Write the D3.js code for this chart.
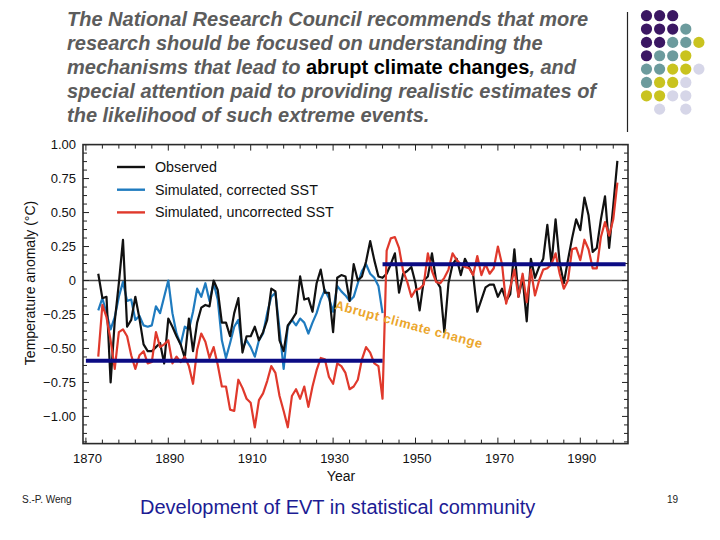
<!DOCTYPE html>
<html><head><meta charset="utf-8">
<script src="https://cdn.jsdelivr.net/npm/d3@7"></script>
<style>body{margin:0;background:#fff}svg{display:block}</style>
</head><body>
<script>
// ---------- data ----------
const startYear = 1873;
const observed = [0.05,-0.13,-0.12,-0.75,-0.30,-0.02,0.30,-0.34,-0.29,-0.12,
 -0.28,-0.47,-0.52,-0.52,-0.49,-0.46,-0.61,-0.28,-0.34,-0.41,
 -0.47,-0.57,-0.28,-0.52,-0.31,-0.20,-0.18,-0.19,0.00,-0.07,
 -0.31,-0.31,-0.41,-0.24,-0.13,-0.53,-0.41,-0.41,-0.34,-0.44,
 -0.38,-0.29,-0.06,-0.08,-0.44,-0.52,-0.33,-0.29,-0.24,0.03,
 -0.14,-0.13,-0.23,-0.02,0.08,-0.09,-0.09,-0.38,0.02,0.04,
 0.03,-0.15,0.12,0.00,0.03,0.14,0.29,0.15,0.03,0.02,
 0.05,0.12,0.20,-0.09,0.05,0.07,0.10,-0.02,-0.22,0.00,
 0.03,0.20,0.00,-0.05,-0.38,-0.02,0.12,0.16,0.04,0.16,
 0.10,0.04,-0.23,-0.14,-0.05,-0.03,-0.03,-0.12,-0.06,-0.15,
 -0.10,0.23,-0.12,0.02,-0.30,0.16,0.02,0.10,0.16,0.41,
 0.12,0.45,0.13,-0.02,0.15,0.31,0.45,0.37,0.61,0.48,
 0.21,0.24,0.45,0.62,0.24,0.55,0.88];
const corrected = [-0.22,-0.13,-0.24,-0.36,-0.27,-0.12,-0.01,-0.15,-0.14,-0.29,
 -0.26,-0.33,-0.34,-0.33,-0.19,-0.24,-0.12,0.00,-0.24,-0.39,
 -0.47,-0.34,-0.36,-0.23,-0.06,-0.12,-0.02,-0.15,-0.02,-0.14,
 -0.44,-0.57,-0.46,-0.34,-0.29,-0.50,-0.44,-0.49,-0.56,-0.44,
 -0.39,-0.24,-0.12,-0.09,-0.36,-0.65,-0.34,-0.29,-0.33,-0.28,
 -0.31,-0.39,-0.31,-0.24,-0.14,-0.07,-0.13,-0.23,-0.04,-0.08,
 -0.11,-0.15,-0.12,-0.02,0.07,0.12,0.05,0.02,-0.04,-0.24];
const uncorrected = [-0.56,-0.18,-0.27,-0.44,-0.65,-0.38,-0.36,-0.41,-0.55,-0.65,
 -0.55,-0.52,-0.61,-0.60,-0.38,-0.49,-0.47,-0.44,-0.61,-0.56,
 -0.60,-0.56,-0.63,-0.76,-0.51,-0.39,-0.45,-0.57,-0.49,-0.62,
 -0.78,-0.78,-0.95,-0.96,-0.73,-0.79,-0.87,-0.90,-1.08,-0.88,
 -0.83,-0.74,-0.63,-0.68,-0.85,-0.96,-1.08,-0.85,-0.80,-0.87,
 -0.78,-0.93,-0.78,-0.66,-0.57,-0.58,-0.71,-0.76,-0.61,-0.63,
 -0.68,-0.80,-0.78,-0.73,-0.58,-0.49,-0.53,-0.61,-0.63,-0.87,
 0.22,0.31,0.32,0.24,0.07,-0.01,-0.12,-0.07,-0.06,-0.03,
 0.20,0.07,-0.01,-0.02,0.02,0.08,0.20,0.15,0.12,0.10,
 0.09,0.04,0.18,0.04,0.12,0.05,0.09,0.25,0.12,-0.17,
 -0.05,0.08,-0.12,0.05,-0.16,0.08,-0.11,0.00,0.08,0.09,
 0.12,0.20,0.05,-0.06,0.00,0.23,0.24,0.15,0.30,0.23,
 0.09,0.09,0.32,0.43,0.33,0.45,0.72];
const levelStarts = [1870, 1942];
const levelEnds = [1942, 2001];
const levelValues = [-0.59, 0.12];
const xTickLabels = [1870,1890,1910,1930,1950,1970,1990];
const yTickLabels = [1.00,0.75,0.50,0.25,0,-0.25,-0.50,-0.75,-1.00];
const seriesNames = ["Observed","Simulated, corrected SST","Simulated, uncorrected SST"];
const seriesColors = ["#111111","#1f7bbf","#e0392c"];
const titleLines = [
 [["The National Research Council recommends that more",0]],
 [["research should be focused on understanding the",0]],
 [["mechanisms that lead to ",0],["abrupt climate changes",1],[", and",0]],
 [["special attention paid to providing realistic estimates of",0]],
 [["the likelihood of such extreme events.",0]]
];
const dotColors = ["#3b1763","#6c9b9d","#c9c31f","#d6d6e8"];
const dotRows = [
 [0,0,0,null,null],
 [0,0,0,1,null],
 [0,0,1,1,2],
 [0,1,1,2,null],
 [1,1,2,2,3],
 [1,2,2,3,null],
 [2,2,3,3,null],
 [null,3,null,3,null]
];

// ---------- drawing ----------
const W=720,H=540;
const svg=d3.select("body").append("svg").attr("width",W).attr("height",H)
  .style("font-family","'Liberation Sans', Arial, sans-serif");

// title
const tt=svg.append("text").attr("x",67).attr("font-size",20).attr("font-weight","bold");
titleLines.forEach((line,i)=>{
  line.forEach(([t,hl],j)=>{
    const ts=tt.append("tspan").text(t)
      .attr("fill",hl?"#000":"#5c5c5c")
      .attr("font-style",hl?"normal":"italic");
    if(j===0) ts.attr("x",67).attr("y",26+i*24);
  });
});

// right decoration
svg.append("line").attr("x1",627.5).attr("x2",627.5).attr("y1",12).attr("y2",132)
  .attr("stroke","#222").attr("stroke-width",1.2);
dotRows.forEach((row,r)=>row.forEach((c,k)=>{
  if(c===null) return;
  svg.append("circle").attr("cx",646.5+k*13.1).attr("cy",15.7+r*13.35).attr("r",5.6)
    .attr("fill",dotColors[c]);
}));

// scales
const x=d3.scaleLinear().domain([1870,2000]).range([85.9,621.5]);
const y=d3.scaleLinear().domain([-1.2,1.0]).range([443.6,144.6]);
const L=83,R=628,T=y(1.0),B=y(-1.2);

const g=svg.append("g");
// zero line
g.append("line").attr("x1",L).attr("x2",R).attr("y1",y(0)).attr("y2",y(0))
  .attr("stroke","#4a4a4a").attr("stroke-width",1.6);

// ticks
const xt=d3.range(1870,2000,4);
xt.forEach(v=>{
  const len = (v-1870)%20===0?6:4;
  g.append("line").attr("x1",x(v)).attr("x2",x(v)).attr("y1",B).attr("y2",B-len).attr("stroke","#222").attr("stroke-width",1);
  g.append("line").attr("x1",x(v)).attr("x2",x(v)).attr("y1",T).attr("y2",T+len).attr("stroke","#222").attr("stroke-width",1);
});
const yt=d3.range(0,36).map(i=>1-i*0.0625).filter(v=>v>=-1.2);
yt.forEach(v=>{
  const major=Math.abs(v*4-Math.round(v*4))<1e-6;
  const len=major?6:4;
  g.append("line").attr("x1",L).attr("x2",L+len).attr("y1",y(v)).attr("y2",y(v)).attr("stroke","#222").attr("stroke-width",1);
  g.append("line").attr("x1",R).attr("x2",R-len).attr("y1",y(v)).attr("y2",y(v)).attr("stroke","#222").attr("stroke-width",1);
});

// tick labels
const fmt=v=>v===0?"0":(v<0?"\u2212":"")+Math.abs(v).toFixed(2);
svg.selectAll(".yl").data(yTickLabels).enter().append("text")
  .attr("x",76).attr("y",d=>y(d)+4.5).attr("text-anchor","end").attr("font-size",13)
  .attr("fill","#111").text(fmt);
svg.selectAll(".xl").data(xTickLabels).enter().append("text")
  .attr("x",d=>x(d)+1.5).attr("y",463).attr("text-anchor","middle").attr("font-size",13)
  .attr("fill","#111").text(d=>d);
svg.append("text").attr("x",341).attr("y",481).attr("text-anchor","middle").attr("font-size",14)
  .attr("fill","#111").text("Year");
svg.append("text").attr("transform","translate(35,283) rotate(-90)").attr("text-anchor","middle")
  .attr("font-size",14).attr("fill","#111").text("Temperature anomaly  (\u00B0C)");

// series
const line=d3.line().x(d=>x(d[0])).y(d=>y(d[1]));
const toPts=arr=>arr.map((v,i)=>[startYear+i,v]);
const plots=[[corrected,1],[observed,0],[uncorrected,2]];
plots.forEach(([arr,ci])=>{
  g.append("path").attr("d",line(toPts(arr))).attr("fill","none")
    .attr("stroke",seriesColors[ci]).attr("stroke-width",2.2).attr("stroke-linejoin","round");
});

// level lines
levelValues.forEach((v,i)=>{
  g.append("line").attr("x1",x(levelStarts[i])).attr("x2",x(levelEnds[i]))
    .attr("y1",y(v)).attr("y2",y(v)).attr("stroke","#0b0b84").attr("stroke-width",4);
});

// frame
g.append("rect").attr("x",L).attr("y",T).attr("width",R-L).attr("height",B-T)
  .attr("fill","none").attr("stroke","#2a2a2a").attr("stroke-width",1.6);

// legend
seriesNames.forEach((n,i)=>{
  const yy=167+i*22.7;
  g.append("line").attr("x1",117).attr("x2",145).attr("y1",yy).attr("y2",yy)
    .attr("stroke",seriesColors[i]).attr("stroke-width",2.4);
  g.append("text").attr("x",155).attr("y",yy+5).attr("font-size",14.3).attr("fill","#111").text(n);
});

// annotation
svg.append("text").attr("transform","translate(334,309) rotate(15)")
  .attr("font-size",13).attr("font-weight","bold").attr("letter-spacing",0.6)
  .attr("fill","#eba62c").text("Abrupt climate change");

// footer
svg.append("text").attr("x",22).attr("y",503).attr("font-size",10).attr("fill","#222").text("S.-P. Weng");
svg.append("text").attr("x",140).attr("y",514).attr("font-size",20).attr("fill","#1c1c94")
  .text("Development of EVT in statistical community");
svg.append("text").attr("x",667).attr("y",503).attr("font-size",10).attr("fill","#222").text("19");
</script>
</body></html>
